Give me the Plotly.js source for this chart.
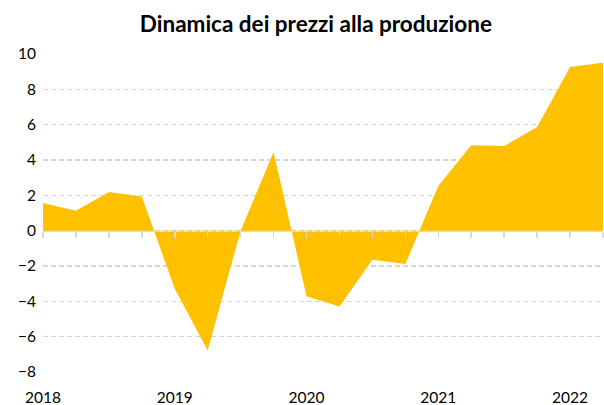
<!DOCTYPE html>
<html>
<head>
<meta charset="utf-8">
<script src="https://cdn.plot.ly/plotly-3.0.1.min.js"></script>
<style>html,body{margin:0;padding:0;background:#fff;}#chart{width:604px;height:405px;}</style>
</head>
<body>
<div id="chart"></div>
<script>
// Quarterly data 2018 Q1 .. 2022 Q2
const quarters = ["2018 T1","2018 T2","2018 T3","2018 T4",
                  "2019 T1","2019 T2","2019 T3","2019 T4",
                  "2020 T1","2020 T2","2020 T3","2020 T4",
                  "2021 T1","2021 T2","2021 T3","2021 T4",
                  "2022 T1","2022 T2"];
const values = [1.56, 1.13, 2.19, 1.93,
                -3.29, -6.78, 0.0, 4.45,
                -3.71, -4.29, -1.64, -1.89,
                2.53, 4.83, 4.79, 5.87,
                9.27, 9.50];
const yearLabels = ["2018","2019","2020","2021","2022"];
const yearPositions = [0, 4, 8, 12, 16];

const idx = quarters.map((q, i) => i);

const traces = [
  {
    x: idx, y: values, type: "scatter", mode: "lines",
    fill: "tozeroy", fillcolor: "#FFC000",
    line: {width: 0, color: "#FFC000"},
    text: quarters, hoverinfo: "text+y",
    xaxis: "x", yaxis: "y"
  },
  {
    x: idx, y: values, type: "scatter", mode: "none",
    hoverinfo: "skip", showlegend: false,
    xaxis: "x2", yaxis: "y"
  }
];

const font = "Lato, 'Open Sans', sans-serif";
const layout = {
  width: 604, height: 405,
  margin: {l: 43, r: 1, t: 54, b: 33},
  paper_bgcolor: "#fff", plot_bgcolor: "#fff",
  showlegend: false,
  title: {
    text: "<b>Dinamica dei prezzi alla produzione</b>",
    font: {family: font, size: 22.5, color: "#000"},
    x: 0.523, xanchor: "center", y: 0.94, yanchor: "middle"
  },
  xaxis: {
    range: [0, 17], anchor: "free", position: 8/18,
    tickvals: idx, ticks: "outside", ticklen: 6, tickwidth: 1.5,
    tickcolor: "#d9d9d9", showticklabels: false,
    showline: true, linecolor: "#d9d9d9", linewidth: 1.5,
    showgrid: false, zeroline: false, fixedrange: true
  },
  xaxis2: {
    range: [0, 17], overlaying: "x", anchor: "y", side: "bottom",
    tickvals: yearPositions, ticktext: yearLabels, ticks: "",
    ticklabelstandoff: 14,
    tickfont: {family: font, size: 15.5, color: "#000"},
    showline: false, showgrid: false, zeroline: false
  },
  yaxis: {
    range: [-8, 10], dtick: 2, tick0: 0, ticks: "",
    showgrid: true, gridcolor: "#d6d6d6", gridwidth: 1.3, griddash: "5px,3px",
    zeroline: false, showline: false,
    tickfont: {family: font, size: 15.5, color: "#000"},
    ticklabelstandoff: 6
  }
};

Plotly.newPlot("chart", traces, layout, {displayModeBar: false, staticPlot: true});
</script>
</body>
</html>
